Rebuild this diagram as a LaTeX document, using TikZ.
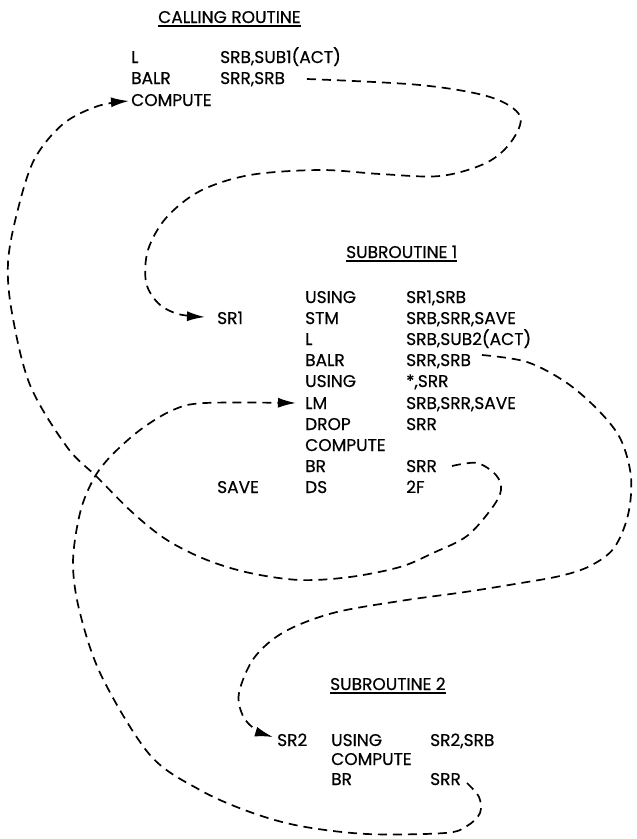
\documentclass[tikz,border=0pt]{standalone}
\usepackage{fontspec}
\setmainfont{Poppins}[FakeBold=0.5]
\usetikzlibrary{arrows.meta}
\begin{document}
\begin{tikzpicture}[x=1pt,y=-1pt,
  txt/.style={anchor=base west, inner sep=0pt, font=\fontsize{17}{20}\selectfont},
  hdr/.style={txt},
  uline/.style={line width=1.2pt},
  flow/.style={line width=1.7pt, dash pattern=on 9pt off 6pt, line cap=butt},
  tip/.style={-{Latex[length=18pt,width=10pt]}}]
\useasboundingbox (0,0) rectangle (637,839);

% ---- calling routine
\node[hdr] (h0) at (158,23) {CALLING ROUTINE};
\node[txt] (c1) at (131,63) {L};
\node[txt] (c1o) at (220,63) {SRB,SUB1(ACT)};
\node[txt] (c2) at (131,84) {BALR};
\node[txt] (c2o) at (220,84) {SRR,SRB};
\node[txt] (c3) at (131,106) {COMPUTE};

% ---- subroutine 1
\node[hdr] (h1) at (346,258) {SUBROUTINE 1};
\node[txt] (s1a) at (305,303) {USING};   \node[txt] (s1ao) at (406,303) {SR1,SRB};
\node[txt] (sr1) at (217,324) {SR1};
\node[txt] (s1b) at (305,324) {STM};     \node[txt] (s1bo) at (406,324) {SRB,SRR,SAVE};
\node[txt] (s1c) at (305,345) {L};       \node[txt] (s1co) at (406,345) {SRB,SUB2(ACT)};
\node[txt] (s1d) at (305,366) {BALR};    \node[txt] (s1do) at (406,366) {SRR,SRB};
\node[txt] (s1e) at (305,387) {USING};   \node[txt] (s1eo) at (406,387) {*,SRR};
\node[txt] (s1f) at (305,409) {LM};      \node[txt] (s1fo) at (406,409) {SRB,SRR,SAVE};
\node[txt] (s1g) at (305,430) {DROP};    \node[txt] (s1go) at (406,430) {SRR};
\node[txt] (s1h) at (305,451) {COMPUTE};
\node[txt] (s1i) at (305,472) {BR};      \node[txt] (s1io) at (406,472) {SRR};
\node[txt] (sv) at (217,493) {SAVE};
\node[txt] (s1j) at (305,493) {DS};      \node[txt] (s1jo) at (406,493) {2F};

% ---- subroutine 2
\node[hdr] (h2) at (330,690) {SUBROUTINE 2};
\node[txt] (sr2) at (277,746) {SR2};
\node[txt] (s2a) at (331,746) {USING};   \node[txt] (s2ao) at (430,746) {SR2,SRB};
\node[txt] (s2b) at (331,765) {COMPUTE};
\node[txt] (s2c) at (331,785) {BR};      \node[txt] (s2co) at (430,785) {SRR};

% ---- header underlines
\foreach \h in {h0,h1,h2}
  \draw[uline] ([yshift=-3pt]\h.base west) -- ([yshift=-3pt]\h.base east);

% ---- connector ends
\coordinate (a0) at (307,79);  \coordinate (a1) at (205,317);
\coordinate (b0) at (482,355); \coordinate (b1) at (273,737);
\coordinate (k0) at (452,466); \coordinate (k1) at (129,101);
\coordinate (d0) at (467,783); \coordinate (d1) at (296,403);

% calling BALR -> SR1
\draw[flow,tip] plot[smooth,tension=0.55] coordinates {(a0) (420,85) (490,97) (520,116) (511,142) (486,163) (440,176) (380,174) (320,170) (250,175) (200,191) (166,218) (148,250) (146,282) (158,303) (178,314) (a1)};

% sub1 BALR -> SR2
\draw[flow,tip] plot[smooth,tension=0.55] coordinates {(b0) (527,362) (567,383) (600,412) (621,440) (631,477) (628,515) (614,548) (590,566) (560,576) (515,584) (465,592) (400,601) (333,613) (284,632) (254,658) (239,693) (243,716) (256,730) (b1)};

% sub1 BR -> COMPUTE (calling)
\draw[flow,tip] plot[smooth,tension=0.55] coordinates {(k0) (477,463) (496,475) (501,490) (492,508) (467,536) (433,553) (400,567) (350,577) (300,580) (250,573) (207,560) (167,540) (133,513) (97,477) (67,447) (30,385) (12,313) (8,263) (17,213) (34,160) (63,124) (98,106) (k1)};

% sub2 BR -> LM
\draw[flow,tip] plot[smooth,tension=0.55] coordinates {(d0) (479,797) (480,813) (467,826) (445,833) (367,834) (300,826) (250,812) (200,790) (150,755) (102,677) (80,613) (73,563) (80,513) (93,480) (110,457) (140,430) (173,410) (205,403) (d1)};
\end{tikzpicture}
\end{document}
